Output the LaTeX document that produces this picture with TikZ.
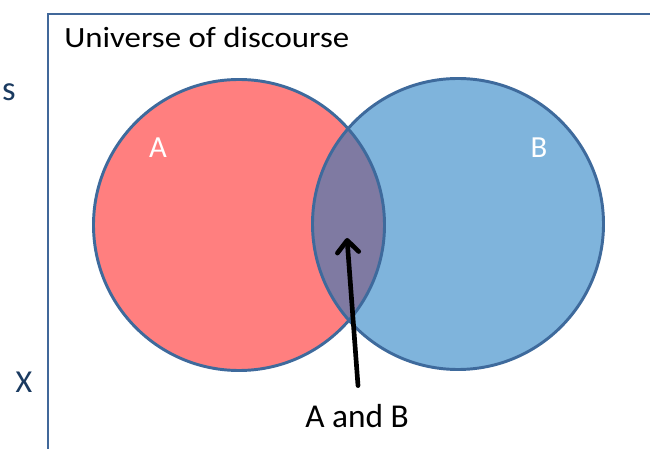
\documentclass[tikz,border=0pt]{standalone}
\usepackage{fontspec}
\setmainfont{Carlito}
\usetikzlibrary{arrows.meta}
\definecolor{framec}{HTML}{41689A}
\definecolor{edgec}{HTML}{3E6A9C}
\definecolor{redf}{HTML}{FF7F7F}
\definecolor{bluef}{HTML}{7FB4DC}
\definecolor{midf}{HTML}{7F7AA2}
\definecolor{navy}{HTML}{1A3A60}
\tikzset{
  setc/.style={circle, minimum size=291*0.75pt, inner sep=0pt, draw=edgec, line width=2.2pt},
  lab/.style={font=\fontsize{22}{26}\selectfont, inner sep=0pt},
  ablab/.style={font=\fontsize{25}{29}\selectfont, inner sep=0pt},
  inlab/.style={font=\fontsize{23}{27}\selectfont, text=white, inner sep=0pt},
  side/.style={font=\fontsize{24}{28}\selectfont, text=navy, inner sep=0pt},
}
\begin{document}
\begin{tikzpicture}[x=0.75pt,y=-0.75pt]
\useasboundingbox (0,0) rectangle (650,449);
\begin{scope}
\clip (0,0) rectangle (650,449);
\draw[framec, line width=2.2pt] (48,14) rectangle (700,500);
\end{scope}
\node[lab, anchor=base west, xscale=1.12, transform shape] (U) at (64,48) {Universe of discourse};
% circles
\fill[redf] (239,225) circle (145.5);
\fill[bluef] (458,224) circle (145.5);
\begin{scope}
\clip (239,225) circle (145.5);
\fill[midf] (458,224) circle (145.5);
\end{scope}
\node[setc] (A) at (239,225) {};
\node[setc] (B) at (458,224) {};
\node[inlab] (la) at (158,148) {A};
\node[inlab] (lb) at (539,148) {B};
\node[ablab, anchor=base] (AB) at (357,427) {A and B};
\coordinate (tip) at (347,238);
\draw[line width=3.5pt, -{Straight Barb[length=9pt,width=16pt,line width=3.5pt,round]}, line cap=round] (AB.north) ++(1,-18) -- (tip);
\node[side, font=\fontsize{26}{30}\selectfont, anchor=base east] (s) at (16,101) {s};
\node[side] (x) at (24,382) {X};
\end{tikzpicture}
\end{document}
